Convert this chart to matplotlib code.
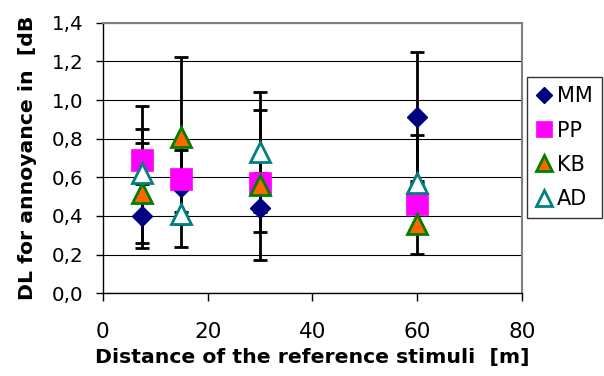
import matplotlib
matplotlib.use("Agg")
import matplotlib.pyplot as plt
from matplotlib.ticker import FuncFormatter

distances = [7.5, 15, 30, 60]
series = ["MM", "PP", "KB", "AD"]
mm = [0.40, 0.55, 0.44, 0.91]
pp = [0.69, 0.59, 0.57, 0.46]
kb = [0.52, 0.81, 0.56, 0.36]
ad = [0.62, 0.41, 0.73, 0.57]
mm_err = [0.165, 0.19, 0.125, 0.34]
pp_err = [0.28, 0.17, 0.05, 0.12]
kb_err = [0.26, 0.41, 0.39, 0.155]
ad_err = [0.23, 0.17, 0.31, 0.25]
x_ticks = [0, 20, 40, 60, 80]
y_ticks = [0.0, 0.2, 0.4, 0.6, 0.8, 1.0, 1.2, 1.4]

plt.rcParams['font.family'] = ['DejaVu Sans']
fig = plt.figure(figsize=(6.04, 3.76), dpi=100)
ax = fig.add_axes([0.170, 0.22, 0.6947, 0.7196])

styles = [
    dict(marker='D', color='#000080', mfc='#000080', mec='#000080', ms=10.5, mew=1),
    dict(marker='s', color='#FF00FF', mfc='#FF00FF', mec='#FF00FF', ms=15.5, mew=0.5),
    dict(marker='^', color='#008000', mfc='#FF6600', mec='#008000', ms=14.5, mew=2),
    dict(marker='^', color='#008080', mfc='white', mec='#008080', ms=14.5, mew=2),
]
vals = [mm, pp, kb, ad]
errs = [mm_err, pp_err, kb_err, ad_err]

for v, e in zip(vals, errs):
    ax.errorbar(distances, v, yerr=e, fmt='none', ecolor='black', elinewidth=2,
                capsize=5, capthick=2, zorder=2)
handles = []
for name, v, st in zip(series, vals, styles):
    h, = ax.plot(distances, v, linestyle='none', label=name, zorder=3, **st)
    handles.append(h)

ax.set_xlim(0, 80)
ax.set_ylim(0, 1.4)
ax.set_xticks(x_ticks)
ax.set_yticks(y_ticks)
ax.yaxis.set_major_formatter(FuncFormatter(lambda v, p: f"{v:.1f}".replace('.', ',')))
ax.grid(axis='y', color='black', linewidth=0.8)
ax.set_axisbelow(True)
for s in ['top', 'right']:
    ax.spines[s].set_color('#808080')
    ax.spines[s].set_linewidth(1.5)
for s in ['left', 'bottom']:
    ax.spines[s].set_color('black')
    ax.spines[s].set_linewidth(1)
ax.tick_params(axis='x', direction='out', length=5.5, width=1, labelsize=15.5, pad=15)
ax.tick_params(axis='y', direction='out', length=5, width=1, labelsize=14.3, pad=9)

ax.set_xlabel("Distance of the reference stimuli  [m]", fontsize=14.7, fontweight='bold', labelpad=4.5)
fig.text(0.045, 1 - 300/376, "DL for annoyance in  [dB", rotation=90, ha='center', va='bottom',
         fontsize=14.7, fontweight='bold')

leg = fig.legend(handles=handles, loc='upper left', bbox_to_anchor=(527/604, 1 - 77/376),
                 frameon=True, fancybox=False, edgecolor='black', fontsize=15,
                 handlelength=0.7, handletextpad=0.3, labelspacing=0.68, borderpad=0.45,
                 borderaxespad=0, markerscale=0.75)
leg.get_frame().set_linewidth(1)

fig.savefig("out.png", dpi=100)
